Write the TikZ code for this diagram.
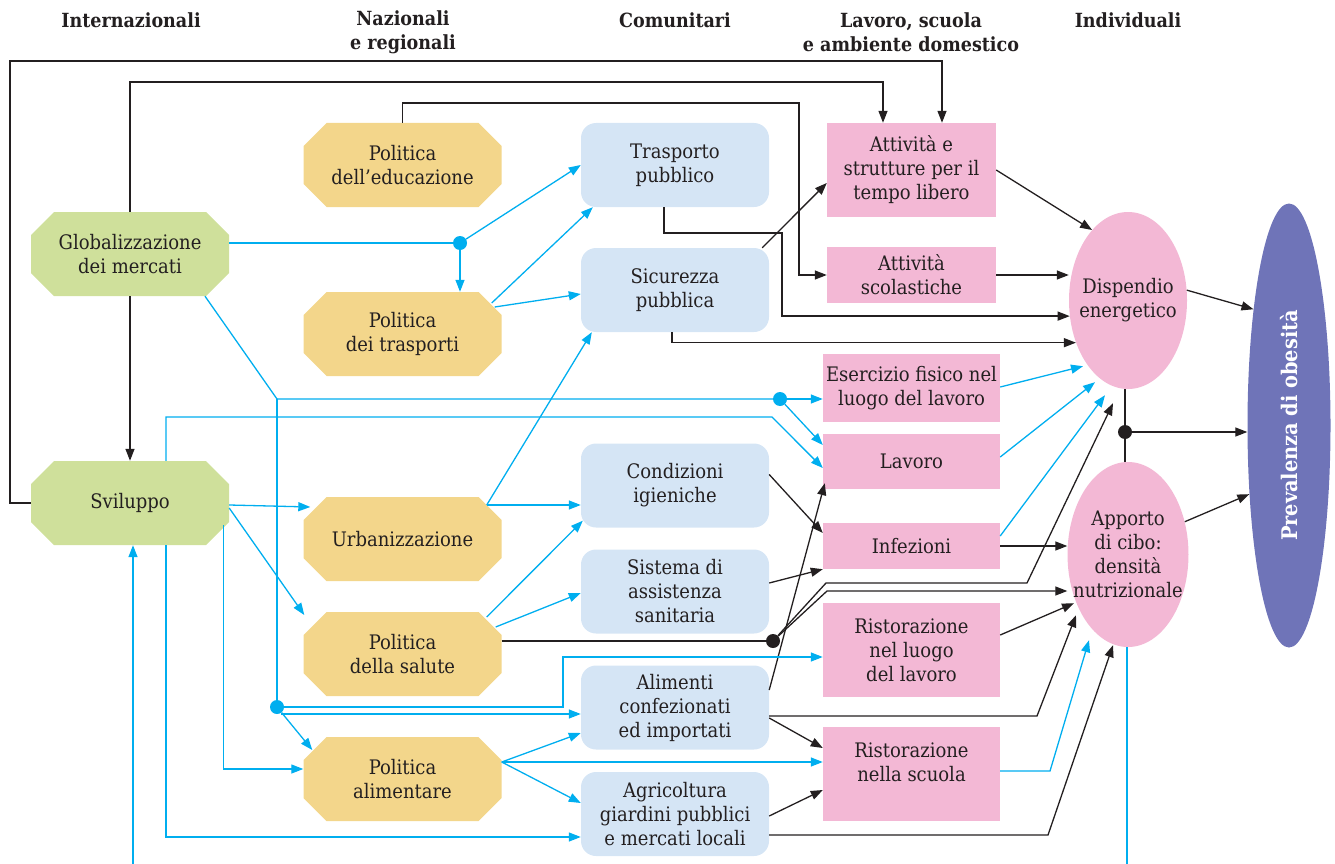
\documentclass[tikz,border=0pt]{standalone}
\usepackage{fontspec}
\setmainfont{DejaVu Serif Condensed}
\usetikzlibrary{shapes.geometric,arrows.meta}

\definecolor{verde}{RGB}{207,224,155}
\definecolor{giallo}{RGB}{243,214,139}
\definecolor{celeste}{RGB}{213,229,245}
\definecolor{rosa}{RGB}{243,184,213}
\definecolor{viola}{RGB}{111,116,184}
\definecolor{ciano}{RGB}{0,174,239}
\definecolor{nero}{RGB}{35,31,32}

\tikzset{
  testo/.style={font=\fontsize{20}{24}\selectfont, align=center, text=nero, inner sep=0pt},
  octa/.style={testo, rectangle, minimum width=198pt, minimum height=84pt,
    path picture={\fill[#1]
      ([xshift=23pt]path picture bounding box.north west) --
      ([xshift=-23pt]path picture bounding box.north east) --
      ([yshift=-23pt]path picture bounding box.north east) --
      ([yshift=23pt]path picture bounding box.south east) --
      ([xshift=-23pt]path picture bounding box.south east) --
      ([xshift=23pt]path picture bounding box.south west) --
      ([yshift=23pt]path picture bounding box.south west) --
      ([yshift=-23pt]path picture bounding box.north west) -- cycle;}},
  comun/.style={testo, rectangle, rounded corners=15pt, fill=celeste, minimum width=188pt, minimum height=84pt},
  ambito/.style={testo, rectangle, fill=rosa, minimum width=177pt},
  indiv/.style={testo, ellipse, fill=rosa, inner xsep=-12pt, minimum width=118pt},
  intest/.style={font=\fontsize{19.5}{24}\selectfont\bfseries, align=center, text=nero},
  nl/.style={draw=nero, line width=1.3pt, -{Triangle[length=12pt,width=9pt]}},
  cl/.style={draw=ciano, line width=1.3pt, -{Triangle[length=12pt,width=9pt]}},
  pallino/.style={circle, fill=#1, inner sep=0pt, minimum size=14pt},
}

\begin{document}
\begin{tikzpicture}[x=1pt,y=-1pt]
\useasboundingbox (0,0) rectangle (1335,864);

% intestazioni
\node[intest] (hint) at (131,20) {Internazionali};
\node[intest] (hnaz) at (403,32) {Nazionali\\e regionali};
\node[intest] (hcom) at (675,20) {Comunitari};
\node[intest] (hlav) at (911,32) {Lavoro, scuola\\e ambiente domestico};
\node[intest] (hind) at (1128,20) {Individuali};

% internazionali
\node[octa=verde] (glob) at (130,254) {Globalizzazione\\dei mercati};
\node[octa=verde] (svil) at (130,503) {Sviluppo};

% nazionali e regionali
\node[octa=giallo] (edu) at (402.5,165) {Politica\\dell'educazione};
\node[octa=giallo] (tras) at (402.5,334) {Politica\\dei trasporti};
\node[octa=giallo] (urb) at (402.5,539) {Urbanizzazione};
\node[octa=giallo] (sal) at (402.5,654) {Politica\\della salute};
\node[octa=giallo] (alim) at (402.5,779) {Politica\\alimentare};

% comunitari
\node[comun] (trasp) at (675,165) {Trasporto\\pubblico};
\node[comun] (sicur) at (675,290) {Sicurezza\\pubblica};
\node[comun] (igien) at (675,485.5) {Condizioni\\igieniche};
\node[comun] (sanit) at (675,591.5) {Sistema di\\assistenza\\sanitaria};
\node[comun] (alimc) at (675,707.5) {Alimenti\\confezionati\\ed importati};
\node[comun] (agri) at (675,814) {Agricoltura\\giardini pubblici\\e mercati locali};

% lavoro, scuola e ambiente domestico
\node[ambito, minimum width=169pt, minimum height=94pt] (tempo) at (911.5,170) {Attività e\\strutture per il\\tempo libero};
\node[ambito, minimum width=169pt, minimum height=56pt] (scol) at (911.5,275) {Attività\\scolastiche};
\node[ambito, minimum height=68pt] (eserc) at (911.5,388) {Esercizio fisico nel\\luogo del lavoro};
\node[ambito, minimum height=55pt] (lavoro) at (911.5,461.5) {Lavoro};
\node[ambito, minimum height=46pt] (inf) at (911.5,546) {Infezioni};
\node[ambito, minimum height=94pt] (ristl) at (911.5,650) {Ristorazione\\nel luogo\\del lavoro};
\node[ambito, minimum height=94pt] (rists) at (911.5,774) {Ristorazione\\nella scuola\\\mbox{}};

% individuali
\node[indiv, minimum height=177pt] (disp) at (1128,300.5) {Dispendio\\energetico};
\node[indiv, minimum height=185pt] (appo) at (1128,554.5) {Apporto\\di cibo:\\densità\\nutrizionale};
\node[ellipse, fill=viola, minimum width=83pt, minimum height=444pt, inner sep=0pt, text=white,
  font=\fontsize{21.5}{24}\selectfont\bfseries] (prev) at (1289,425.5) {\rotatebox{90}{Prevalenza di obesità}};

% nodi di incrocio
\node[pallino=ciano] (d1) at (460,243) {};
\node[pallino=ciano] (d2) at (780,399) {};
\node[pallino=ciano] (d3) at (277,707) {};
\node[pallino=nero] (d4) at (1125,432) {};
\node[pallino=nero] (d5) at (773,641) {};
\coordinate (k1) at (277,399);
\coordinate (basso1) at (133,864);
\coordinate (basso2) at (1127,864);

% collegamenti neri
\draw[nl] (svil.west) -| (10,61) -| (tempo.north -| 942,0);
\draw[nl] (glob.north) -- (130,82) -| (tempo.north -| 883,0);
\draw[nl] (edu.north) -- (402.5,103) -| (799,275) -- (scol.west);
\draw[nl] (glob.south) -- (svil.north);
\draw[nl] (trasp.south -| 664,0) |- (782,233) |- (disp.195);
\draw[nl] (sicur.south -| 672,0) |- (disp.219);
\draw[nl] ([xshift=-7pt]sicur.north east) -- ([yshift=-13pt]tempo.west);
\draw[nl] (tempo.east) -- (disp.117);
\draw[nl] (scol.east) -- (disp.west |- scol.east);
\draw[nl] (disp.10) -- (prev.107);
\draw[nl,-] (disp.south -| d4) -- (appo.north -| d4);
\draw[nl] (d4) -- (d4 -| prev.west);
\draw[nl] (appo.30) -- (prev.240);
\draw[nl] ([yshift=11pt]igien.east) -- ([yshift=13pt]inf.west);
\draw[nl] ([yshift=8.5pt]sanit.east) -- (inf.south west);
\draw[nl] ([yshift=17.5pt]alimc.east) -- ([xshift=2pt,yshift=6pt]lavoro.south west);
\draw[nl,-] (sal.east |- d5) -- (d5);
\draw[nl] (d5) -- (826,583) -- (1027,583) -- ([xshift=-15pt,yshift=-14pt]disp.south);
\draw[nl] (d5) -- (827,591) -- ([yshift=-36.5pt]appo.west);
\draw[nl] (inf.east) -- (inf.east -| appo.west);
\draw[nl] ([yshift=15pt]ristl.east) -- ([xshift=-54pt,yshift=44pt]appo.south);
\draw[nl] ([yshift=-8.5pt]alimc.east) -- (1037,716) -- ([xshift=-52pt,yshift=32pt]appo.south);
\draw[nl] ([yshift=-10.5pt]alimc.east) -- ([yshift=26pt]rists.west);
\draw[nl] ([yshift=-2pt]agri.east) -- ([yshift=-16pt]rists.west);
\draw[nl] ([yshift=-21pt]agri.east) -- (1048,835) -- ([xshift=-15pt,yshift=2pt]appo.south);

% collegamenti celesti
\draw[cl,-] (glob.east |- d1) -- (d1);
\draw[cl] (d1) -- (trasp.west);
\draw[cl] (d1) -- (d1 |- tras.north);
\draw[cl] ([xshift=-10pt,yshift=31pt]tras.east) -- ([xshift=12pt]trasp.south west);
\draw[cl] ([xshift=-7pt,yshift=27pt]tras.east) -- ([yshift=-4pt]sicur.west);
\draw[cl,-] ([xshift=75pt]glob.south) -- (k1) -- (d2);
\draw[cl] (d2) -- (eserc.west |- d2);
\draw[cl] (d2) -- ([yshift=16.5pt]lavoro.west);
\draw[cl,-] (k1) -- (d3);
\draw[cl] (d3) -- (563,707) |- ([yshift=-7pt]ristl.west);
\draw[cl] (d3) ++(4,7) -- ([yshift=-6.5pt]alimc.west);
\draw[cl] (d3) -- ([xshift=9pt,yshift=29pt]alim.west);
\draw[cl] ([yshift=-2pt]svil.east) -- ([xshift=7pt,yshift=32pt]urb.west);
\draw[cl] ([yshift=-5pt]svil.east) -- ([xshift=1pt,yshift=39pt]sal.west);
\draw[cl] ([xshift=-6pt,yshift=-22pt]svil.east) |- ([yshift=10pt]alim.west);
\draw[cl] ([xshift=36pt]svil.north) |- (772,417) -- ([yshift=-6.5pt]lavoro.west);
\draw[cl] ([xshift=36pt]svil.south) |- ([yshift=-23pt]agri.west);
\draw[cl] (basso1) -- (svil.south -| basso1);
\draw[cl,-] (appo.south -| basso2) -- (basso2);
\draw[cl] ([xshift=-15pt,yshift=34pt]urb.east) -- ([xshift=11pt]sicur.south west);
\draw[cl] ([xshift=-15pt,yshift=34pt]urb.east) -- ([yshift=-19.5pt]igien.west);
\draw[cl] ([xshift=-15pt,yshift=37pt]sal.east) -- ([xshift=2pt,yshift=7pt]igien.south west);
\draw[cl] ([xshift=-6pt,yshift=27pt]sal.east) -- ([yshift=-1.5pt]sanit.west);
\draw[cl] ([yshift=17pt]alim.east) -- ([yshift=-25.5pt]alimc.west);
\draw[cl] ([yshift=17pt]alim.east) -- ([yshift=12pt]rists.west);
\draw[cl] ([yshift=17pt]alim.east) -- ([yshift=11pt]agri.west);
\draw[cl] ([yshift=3pt]rists.east) -- (1050,771) -- ([xshift=-39pt,yshift=7pt]appo.south);
\draw[cl] ([yshift=1pt]eserc.east) -- ([xshift=-45pt,yshift=23pt]disp.south);
\draw[cl] ([yshift=4.5pt]lavoro.east) -- ([xshift=-33pt,yshift=7pt]disp.south);
\draw[cl] ([yshift=10pt]inf.east) -- ([xshift=-23pt,yshift=-6pt]disp.south);
\end{tikzpicture}
\end{document}
